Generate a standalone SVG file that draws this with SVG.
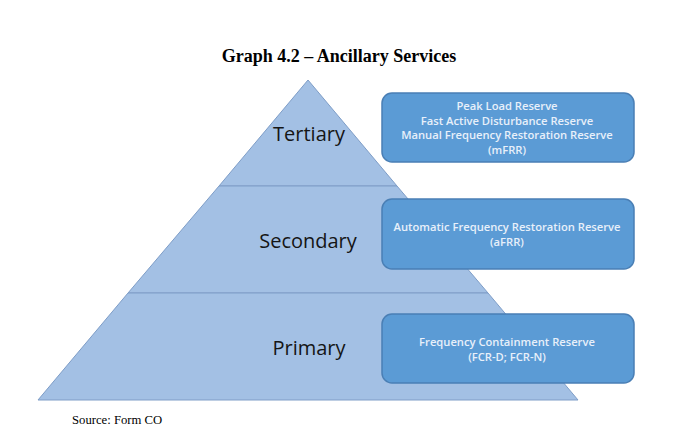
<svg xmlns="http://www.w3.org/2000/svg" width="680" height="432" viewBox="0 0 680 432">
<style>
.title{font-family:"Liberation Serif",serif;font-weight:bold;font-size:18px;fill:#000}
.src{font-family:"Liberation Serif",serif;font-size:12.7px;fill:#000}
.band{fill:#a3c0e4;stroke:#7e9dc7;stroke-width:1}
.lvl{font-family:"Open Sans","Liberation Sans",sans-serif;font-size:20px;fill:#151515;text-anchor:middle}
.box{fill:#5b9bd5;stroke:#4a7fb5;stroke-width:1.5}
.bt{font-family:"Open Sans","Liberation Sans",sans-serif;font-size:11.2px;font-weight:600;fill:#e8f0fa;text-anchor:middle}
</style>
<rect width="680" height="432" fill="#fff"/>
<text class="title" x="339" y="62" text-anchor="middle">Graph 4.2 – Ancillary Services</text>
<g id="tertiary">
<polygon class="band" points="308,80 397,186 219,186"/>
<text class="lvl" x="309" y="141">Tertiary</text>
</g>
<g id="secondary">
<polygon class="band" points="219,186 397,186 488,293 128,293" fill="#a7c4e6"/>
<text class="lvl" x="308" y="248">Secondary</text>
</g>
<g id="primary">
<polygon class="band" points="128,293 488,293 578,400 38,400"/>
<text class="lvl" x="309" y="355">Primary</text>
</g>
<g id="box-mfrr">
<rect class="box" x="382" y="93" width="252" height="69" rx="10"/>
<text class="bt" x="507" y="110">Peak Load Reserve</text>
<text class="bt" x="507" y="125">Fast Active Disturbance Reserve</text>
<text class="bt" x="507" y="139">Manual Frequency Restoration Reserve</text>
<text class="bt" x="507" y="154">(mFRR)</text>
</g>
<g id="box-afrr">
<rect class="box" x="382" y="199" width="252" height="70" rx="10"/>
<text class="bt" x="507" y="231">Automatic Frequency Restoration Reserve</text>
<text class="bt" x="507" y="246">(aFRR)</text>
</g>
<g id="box-fcr">
<rect class="box" x="382" y="314" width="252" height="69" rx="10"/>
<text class="bt" x="507" y="346">Frequency Containment Reserve</text>
<text class="bt" x="507" y="361">(FCR-D; FCR-N)</text>
</g>
<g id="connectors"/>
<text class="src" x="72" y="424">Source: Form CO</text>
</svg>
